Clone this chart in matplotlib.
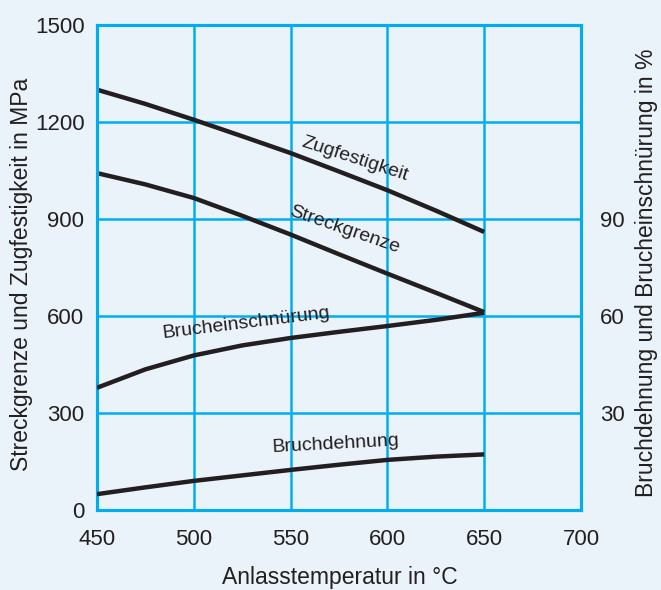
import numpy as np
import matplotlib
matplotlib.use("Agg")
import matplotlib.pyplot as plt

plt.rcParams['font.family'] = ['Liberation Sans', 'DejaVu Sans']

# Anlasstemperatur in °C
temp = [450, 475, 500, 525, 550, 575, 600, 625, 650]

# MPa (linke Achse)
zugfestigkeit = [1300, 1256, 1207, 1156, 1104, 1047, 989, 926, 860]
streckgrenze = [1042, 1007, 965, 910, 852, 791, 731, 672, 612]

# % (rechte Achse)
brucheinschnuerung = [37.8, 43.5, 47.8, 50.9, 53.2, 55.1, 56.9, 58.8, 61.0]
bruchdehnung = [4.9, 7.0, 9.0, 10.7, 12.4, 14.0, 15.5, 16.5, 17.2]

x_ticks = [450, 500, 550, 600, 650, 700]
left_ticks = [0, 300, 600, 900, 1200, 1500]
right_ticks = [30, 60, 90]

grid_col = '#00aeef'
line_col = '#231f20'
text_col = '#231f20'
bg = '#eaf3fa'

fig = plt.figure(figsize=(6.61, 5.90), dpi=100, facecolor=bg)
ax = fig.add_axes([0.1467, 0.1356, 0.7323, 0.822])
ax.set_facecolor(bg)
ax2 = ax.twinx()

style = dict(color=line_col, lw=3.2, solid_capstyle='butt', solid_joinstyle='round', zorder=5)
ax.plot(temp, zugfestigkeit, **style)
ax.plot(temp, streckgrenze, **style)
ax2.plot(temp, brucheinschnuerung, **style)
ax2.plot(temp, bruchdehnung, **style)

ax.set_xlim(450, 700)
ax.set_ylim(0, 1500)
ax2.set_ylim(0, 150)
ax.set_xticks(x_ticks)
ax.set_yticks(left_ticks)
ax2.set_yticks(right_ticks)

ax.grid(True, color=grid_col, lw=1.8)
ax.set_axisbelow(True)
for a in (ax, ax2):
    for s in a.spines.values():
        s.set_color(grid_col)
        s.set_linewidth(2.2)

ax.tick_params(axis='x', length=0, pad=14, labelsize=16, labelcolor=text_col)
ax.tick_params(axis='y', length=0, pad=9, labelsize=16, labelcolor=text_col)
ax2.tick_params(axis='y', length=0, pad=13.5, labelsize=16, labelcolor=text_col)

# Achsentitel
fig.text(340 / 661, 6 / 590, 'Anlasstemperatur in °C', fontsize=16.5, color=text_col,
         ha='center', va='baseline')
fig.text(22 / 661, 1 - 274.5 / 590, 'Streckgrenze und Zugfestigkeit in MPa', fontsize=16.5,
         color=text_col, rotation=90, ha='center', va='center')
fig.text(647 / 661, 1 - 272.5 / 590, 'Bruchdehnung und Brucheinschnürung in %', fontsize=16.5,
         color=text_col, rotation=90, ha='center', va='center')

txt = dict(fontsize=14, color=text_col, ha='center', va='center', zorder=6)
ax.text(583, 1086, 'Zugfestigkeit', rotation=-18, **txt)
ax.text(578, 868, 'Streckgrenze', rotation=-19, **txt)
ax.text(527, 578, 'Brucheinschnürung', rotation=7, **txt)
ax.text(573, 204, 'Bruchdehnung', rotation=3, **txt)

fig.savefig('out.png', dpi=100, facecolor=bg)
